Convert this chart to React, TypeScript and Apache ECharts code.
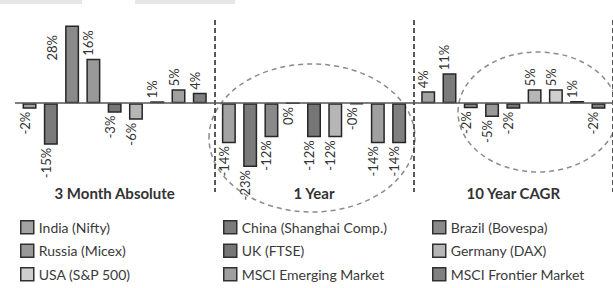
import React, { useEffect, useRef } from "react";
import * as echarts from "echarts";

const categories = ["3 Month Absolute", "1 Year", "10 Year CAGR"];
const seriesNames = [
  "India (Nifty)",
  "China (Shanghai Comp.)",
  "Brazil (Bovespa)",
  "Russia (Micex)",
  "UK (FTSE)",
  "Germany (DAX)",
  "USA (S&P 500)",
  "MSCI Emerging Market",
  "MSCI Frontier Market",
];
const india = [-2, -14.4, 4.3];
const china = [-15, -23, 10.8];
const brazil = [28, -12.3, -1.8];
const russia = [16, 0, -5];
const uk = [-3.4, -12.3, -2];
const germany = [-6, -12.3, 5];
const usa = [0.7, -0.3, 5];
const msciEM = [5, -14.4, 0.8];
const msciFM = [3.8, -14.4, -2];
const seriesValues = [india, china, brazil, russia, uk, germany, usa, msciEM, msciFM];
const colors = ["#a3a3a3", "#7b7b7b", "#8a8a8a", "#999999", "#767676", "#b6b6b6", "#cfcfcf", "#a0a0a0", "#808080"];

const FONT = "Lato, 'Open Sans', sans-serif";

const fmt = (v: number) => `${v < 0 ? "-" : ""}${Math.abs(Math.round(v))}%`;

export default function App() {
  const ref = useRef<HTMLDivElement>(null);
  useEffect(() => {
    if (!ref.current) return;
    const chart = echarts.init(ref.current, undefined, { renderer: "svg" });
    const series: any[] = seriesNames.map((name, si) => ({
      name,
      type: "bar",
      barWidth: 14,
      barGap: "52%",
      itemStyle: { color: colors[si], borderColor: "#262626", borderWidth: 1.5 },
      data: seriesValues[si].map((v, ci) => {
        const neg = v <= 0;
        const item: any = {
          value: v,
          label: {
            show: true,
            position: neg ? "bottom" : "top",
            rotate: 90,
            align: neg ? "right" : "left",
            verticalAlign: "middle",
            distance: 3,
            offset: [0, -5],
            formatter: () => fmt(v),
            color: "#333",
            fontFamily: FONT,
            fontSize: 13,
          },
        };
        if (si === 2 && ci === 0) item.label.offset = [-38, -20];
        return item;
      }),
      ...(si === 0
        ? {
            markLine: {
              silent: true,
              symbol: "none",
              label: { show: false },
              lineStyle: { color: "#555", width: 1.5, type: "solid" },
              data: [{ yAxis: 0 }],
            },
          }
        : {}),
    }));

    const legendCol = (left: number, idx: number[]) => ({
      orient: "vertical",
      left,
      top: 220,
      padding: 0,
      itemWidth: 13,
      itemHeight: 13,
      itemGap: 9,
      icon: "rect",
      itemStyle: { borderColor: "#303030", borderWidth: 1.5 },
      textStyle: { color: "#3a3a3a", fontFamily: FONT, fontSize: 14 },
      data: idx.map((i) => seriesNames[i]),
    });

    chart.setOption({
      animation: false,
      backgroundColor: "#ffffff",
      grid: { left: 15, right: 0, top: 20, bottom: 96 },
      xAxis: {
        type: "category",
        data: categories,
        axisLine: { show: false, onZero: false },
        axisTick: { show: false },
        axisLabel: { margin: -7, color: "#333", fontFamily: FONT, fontSize: 15, fontWeight: "bold" },
        splitLine: {
          show: true,
          interval: (i: number) => i >= 1,
          lineStyle: { color: "#222", width: 1.5, type: [5, 3] },
        },
      },
      yAxis: { type: "value", min: -32, max: 30, show: false, splitLine: { show: false } },
      legend: [legendCol(20, [0, 3, 6]), legendCol(223, [1, 4, 7]), legendCol(432, [2, 5, 8])],
      graphic: [
        { type: "rect", shape: { x: 0, y: 0, width: 82, height: 4 }, style: { fill: "#e6e6e6" }, silent: true },
        { type: "rect", shape: { x: 135, y: 0, width: 100, height: 4 }, style: { fill: "#e6e6e6" }, silent: true },
        {
          type: "ellipse",
          shape: { cx: 312, cy: 138, rx: 103, ry: 74 },
          style: { fill: "none", stroke: "#8c8c8c", lineWidth: 1.5, lineDash: [5, 4] },
          silent: true,
          z: -1,
        },
        {
          type: "ellipse",
          shape: { cx: 538, cy: 112, rx: 80, ry: 60 },
          style: { fill: "none", stroke: "#8c8c8c", lineWidth: 1.5, lineDash: [5, 4] },
          silent: true,
          z: -1,
        },
      ],
      series,
    });
    return () => chart.dispose();
  }, []);
  return <div ref={ref} style={{ position: "fixed", left: 0, top: 0, width: 613, height: 288 }} />;
}
